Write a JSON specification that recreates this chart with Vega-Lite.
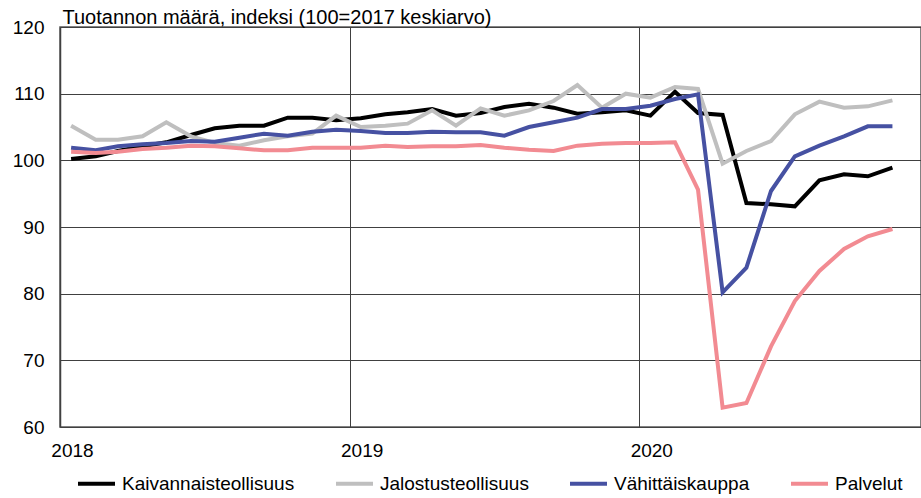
{
  "$schema": "https://vega.github.io/schema/vega-lite/v6.json",
  "width": 861,
  "height": 400,
  "autosize": {"type": "none"},
  "padding": {"left": 60, "top": 27, "right": 0, "bottom": 71},
  "background": "white",
  "config": {
    "font": "Liberation Sans",
    "view": {"stroke": "#595959", "strokeWidth": 1.5},
    "axis": {"labelFont": "Liberation Sans", "titleFont": "Liberation Sans", "labelColor": "#000", "titleColor": "#000"}
  },
  "data": {"values": [
    {"d":"2018-01-15","s":"Kaivannaisteollisuus","v":100.2},{"d":"2018-02-15","s":"Kaivannaisteollisuus","v":100.6},{"d":"2018-03-15","s":"Kaivannaisteollisuus","v":101.4},{"d":"2018-04-15","s":"Kaivannaisteollisuus","v":102.1},{"d":"2018-05-15","s":"Kaivannaisteollisuus","v":102.7},{"d":"2018-06-15","s":"Kaivannaisteollisuus","v":103.8},{"d":"2018-07-15","s":"Kaivannaisteollisuus","v":104.8},{"d":"2018-08-15","s":"Kaivannaisteollisuus","v":105.2},{"d":"2018-09-15","s":"Kaivannaisteollisuus","v":105.2},{"d":"2018-10-15","s":"Kaivannaisteollisuus","v":106.4},{"d":"2018-11-15","s":"Kaivannaisteollisuus","v":106.4},{"d":"2018-12-15","s":"Kaivannaisteollisuus","v":106.0},
    {"d":"2019-01-15","s":"Kaivannaisteollisuus","v":106.3},{"d":"2019-02-15","s":"Kaivannaisteollisuus","v":106.9},{"d":"2019-03-15","s":"Kaivannaisteollisuus","v":107.2},{"d":"2019-04-15","s":"Kaivannaisteollisuus","v":107.7},{"d":"2019-05-15","s":"Kaivannaisteollisuus","v":106.7},{"d":"2019-06-15","s":"Kaivannaisteollisuus","v":107.1},{"d":"2019-07-15","s":"Kaivannaisteollisuus","v":108.0},{"d":"2019-08-15","s":"Kaivannaisteollisuus","v":108.5},{"d":"2019-09-15","s":"Kaivannaisteollisuus","v":107.9},{"d":"2019-10-15","s":"Kaivannaisteollisuus","v":107.0},{"d":"2019-11-15","s":"Kaivannaisteollisuus","v":107.2},{"d":"2019-12-15","s":"Kaivannaisteollisuus","v":107.5},
    {"d":"2020-01-15","s":"Kaivannaisteollisuus","v":106.7},{"d":"2020-02-15","s":"Kaivannaisteollisuus","v":110.3},{"d":"2020-03-15","s":"Kaivannaisteollisuus","v":107.1},{"d":"2020-04-15","s":"Kaivannaisteollisuus","v":106.8},{"d":"2020-05-15","s":"Kaivannaisteollisuus","v":93.6},{"d":"2020-06-15","s":"Kaivannaisteollisuus","v":93.4},{"d":"2020-07-15","s":"Kaivannaisteollisuus","v":93.1},{"d":"2020-08-15","s":"Kaivannaisteollisuus","v":97.0},{"d":"2020-09-15","s":"Kaivannaisteollisuus","v":97.9},{"d":"2020-10-15","s":"Kaivannaisteollisuus","v":97.6},{"d":"2020-11-15","s":"Kaivannaisteollisuus","v":98.9},

    {"d":"2018-01-15","s":"Jalostusteollisuus","v":105.2},{"d":"2018-02-15","s":"Jalostusteollisuus","v":103.1},{"d":"2018-03-15","s":"Jalostusteollisuus","v":103.1},{"d":"2018-04-15","s":"Jalostusteollisuus","v":103.6},{"d":"2018-05-15","s":"Jalostusteollisuus","v":105.7},{"d":"2018-06-15","s":"Jalostusteollisuus","v":103.6},{"d":"2018-07-15","s":"Jalostusteollisuus","v":102.6},{"d":"2018-08-15","s":"Jalostusteollisuus","v":102.2},{"d":"2018-09-15","s":"Jalostusteollisuus","v":103.0},{"d":"2018-10-15","s":"Jalostusteollisuus","v":103.6},{"d":"2018-11-15","s":"Jalostusteollisuus","v":104.0},{"d":"2018-12-15","s":"Jalostusteollisuus","v":106.7},
    {"d":"2019-01-15","s":"Jalostusteollisuus","v":105.0},{"d":"2019-02-15","s":"Jalostusteollisuus","v":105.2},{"d":"2019-03-15","s":"Jalostusteollisuus","v":105.5},{"d":"2019-04-15","s":"Jalostusteollisuus","v":107.5},{"d":"2019-05-15","s":"Jalostusteollisuus","v":105.2},{"d":"2019-06-15","s":"Jalostusteollisuus","v":107.8},{"d":"2019-07-15","s":"Jalostusteollisuus","v":106.7},{"d":"2019-08-15","s":"Jalostusteollisuus","v":107.5},{"d":"2019-09-15","s":"Jalostusteollisuus","v":108.9},{"d":"2019-10-15","s":"Jalostusteollisuus","v":111.3},{"d":"2019-11-15","s":"Jalostusteollisuus","v":107.9},{"d":"2019-12-15","s":"Jalostusteollisuus","v":110.0},
    {"d":"2020-01-15","s":"Jalostusteollisuus","v":109.4},{"d":"2020-02-15","s":"Jalostusteollisuus","v":111.0},{"d":"2020-03-15","s":"Jalostusteollisuus","v":110.7},{"d":"2020-04-15","s":"Jalostusteollisuus","v":99.5},{"d":"2020-05-15","s":"Jalostusteollisuus","v":101.4},{"d":"2020-06-15","s":"Jalostusteollisuus","v":102.9},{"d":"2020-07-15","s":"Jalostusteollisuus","v":106.9},{"d":"2020-08-15","s":"Jalostusteollisuus","v":108.8},{"d":"2020-09-15","s":"Jalostusteollisuus","v":107.9},{"d":"2020-10-15","s":"Jalostusteollisuus","v":108.1},{"d":"2020-11-15","s":"Jalostusteollisuus","v":109.0},

    {"d":"2018-01-15","s":"Vähittäiskauppa","v":101.9},{"d":"2018-02-15","s":"Vähittäiskauppa","v":101.5},{"d":"2018-03-15","s":"Vähittäiskauppa","v":102.1},{"d":"2018-04-15","s":"Vähittäiskauppa","v":102.4},{"d":"2018-05-15","s":"Vähittäiskauppa","v":102.6},{"d":"2018-06-15","s":"Vähittäiskauppa","v":102.9},{"d":"2018-07-15","s":"Vähittäiskauppa","v":102.8},{"d":"2018-08-15","s":"Vähittäiskauppa","v":103.4},{"d":"2018-09-15","s":"Vähittäiskauppa","v":104.0},{"d":"2018-10-15","s":"Vähittäiskauppa","v":103.7},{"d":"2018-11-15","s":"Vähittäiskauppa","v":104.3},{"d":"2018-12-15","s":"Vähittäiskauppa","v":104.6},
    {"d":"2019-01-15","s":"Vähittäiskauppa","v":104.4},{"d":"2019-02-15","s":"Vähittäiskauppa","v":104.1},{"d":"2019-03-15","s":"Vähittäiskauppa","v":104.1},{"d":"2019-04-15","s":"Vähittäiskauppa","v":104.3},{"d":"2019-05-15","s":"Vähittäiskauppa","v":104.2},{"d":"2019-06-15","s":"Vähittäiskauppa","v":104.2},{"d":"2019-07-15","s":"Vähittäiskauppa","v":103.7},{"d":"2019-08-15","s":"Vähittäiskauppa","v":105.0},{"d":"2019-09-15","s":"Vähittäiskauppa","v":105.7},{"d":"2019-10-15","s":"Vähittäiskauppa","v":106.4},{"d":"2019-11-15","s":"Vähittäiskauppa","v":107.7},{"d":"2019-12-15","s":"Vähittäiskauppa","v":107.7},
    {"d":"2020-01-15","s":"Vähittäiskauppa","v":108.2},{"d":"2020-02-15","s":"Vähittäiskauppa","v":109.2},{"d":"2020-03-15","s":"Vähittäiskauppa","v":109.9},{"d":"2020-04-15","s":"Vähittäiskauppa","v":80.2},{"d":"2020-05-15","s":"Vähittäiskauppa","v":83.9},{"d":"2020-06-15","s":"Vähittäiskauppa","v":95.4},{"d":"2020-07-15","s":"Vähittäiskauppa","v":100.6},{"d":"2020-08-15","s":"Vähittäiskauppa","v":102.2},{"d":"2020-09-15","s":"Vähittäiskauppa","v":103.6},{"d":"2020-10-15","s":"Vähittäiskauppa","v":105.1},{"d":"2020-11-15","s":"Vähittäiskauppa","v":105.1},

    {"d":"2018-01-15","s":"Palvelut","v":101.3},{"d":"2018-02-15","s":"Palvelut","v":101.1},{"d":"2018-03-15","s":"Palvelut","v":101.3},{"d":"2018-04-15","s":"Palvelut","v":101.7},{"d":"2018-05-15","s":"Palvelut","v":101.9},{"d":"2018-06-15","s":"Palvelut","v":102.2},{"d":"2018-07-15","s":"Palvelut","v":102.1},{"d":"2018-08-15","s":"Palvelut","v":101.8},{"d":"2018-09-15","s":"Palvelut","v":101.5},{"d":"2018-10-15","s":"Palvelut","v":101.5},{"d":"2018-11-15","s":"Palvelut","v":101.9},{"d":"2018-12-15","s":"Palvelut","v":101.9},
    {"d":"2019-01-15","s":"Palvelut","v":101.9},{"d":"2019-02-15","s":"Palvelut","v":102.2},{"d":"2019-03-15","s":"Palvelut","v":102.0},{"d":"2019-04-15","s":"Palvelut","v":102.1},{"d":"2019-05-15","s":"Palvelut","v":102.1},{"d":"2019-06-15","s":"Palvelut","v":102.3},{"d":"2019-07-15","s":"Palvelut","v":101.9},{"d":"2019-08-15","s":"Palvelut","v":101.6},{"d":"2019-09-15","s":"Palvelut","v":101.4},{"d":"2019-10-15","s":"Palvelut","v":102.2},{"d":"2019-11-15","s":"Palvelut","v":102.5},{"d":"2019-12-15","s":"Palvelut","v":102.6},
    {"d":"2020-01-15","s":"Palvelut","v":102.6},{"d":"2020-02-15","s":"Palvelut","v":102.7},{"d":"2020-03-15","s":"Palvelut","v":95.6},{"d":"2020-04-15","s":"Palvelut","v":62.9},{"d":"2020-05-15","s":"Palvelut","v":63.6},{"d":"2020-06-15","s":"Palvelut","v":72.1},{"d":"2020-07-15","s":"Palvelut","v":78.9},{"d":"2020-08-15","s":"Palvelut","v":83.4},{"d":"2020-09-15","s":"Palvelut","v":86.7},{"d":"2020-10-15","s":"Palvelut","v":88.6},{"d":"2020-11-15","s":"Palvelut","v":89.7}
  ]},
  "mark": {"type": "line", "strokeWidth": 4, "strokeJoin": "miter", "clip": true},
  "encoding": {
    "x": {
      "field": "d", "type": "temporal",
      "scale": {"type": "utc", "domain": [{"year": 2018, "month": 1, "date": 1, "utc": true}, {"year": 2020, "month": 12, "date": 21, "utc": true}]},
      "axis": {
        "title": null, "format": "%Y", "tickCount": {"interval": "year", "step": 1},
        "grid": true, "gridColor": "#404040", "gridWidth": 1, "gridOpacity": 1,
        "domain": false, "ticks": false, "labelFontSize": 19, "labelPadding": 14,
        "labelOffset": 12, "labelAlign": "center", "labelBaseline": "top", "labelFlush": false
      }
    },
    "y": {
      "field": "v", "type": "quantitative",
      "scale": {"domain": [60, 120], "nice": false, "zero": false},
      "axis": {
        "values": [60, 70, 80, 90, 100, 110, 120],
        "grid": true, "gridColor": "#404040", "gridWidth": 1, "gridOpacity": 1,
        "domain": true, "domainColor": "#404040", "domainWidth": 1.5, "ticks": false, "labelFontSize": 19, "labelPadding": 16,
        "title": "Tuotannon määrä, indeksi (100=2017 keskiarvo)",
        "titleAngle": 0, "titleAlign": "left", "titleBaseline": "alphabetic",
        "titleX": 2, "titleY": -4, "titleFontSize": 20, "titleFontWeight": "normal"
      }
    },
    "color": {
      "field": "s", "type": "nominal",
      "scale": {
        "domain": ["Kaivannaisteollisuus", "Jalostusteollisuus", "Vähittäiskauppa", "Palvelut"],
        "range": ["#000000", "#BFBFBF", "#4651A2", "#F28B92"]
      },
      "legend": {
        "title": null, "orient": "none", "direction": "horizontal",
        "legendX": 16, "legendY": 436, "padding": 0,
        "symbolType": "stroke", "symbolSize": 1369, "symbolStrokeWidth": 4,
        "labelFontSize": 19, "labelFont": "Liberation Sans", "labelColor": "#000",
        "labelOffset": 5, "columnPadding": 33, "labelLimit": 400
      }
    }
  }
}
